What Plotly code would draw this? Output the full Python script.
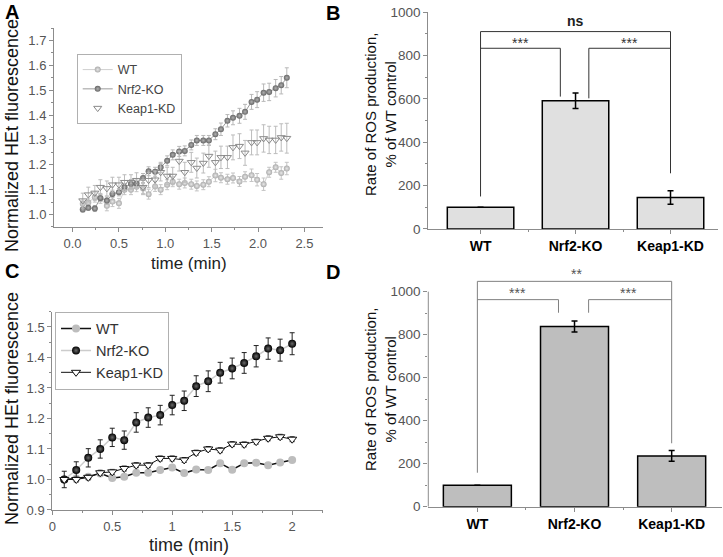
import plotly.graph_objects as go

# ---------------- Panel A data ----------------
time_a = [0.11, 0.17, 0.24, 0.30, 0.37, 0.43, 0.50, 0.56, 0.63, 0.69, 0.76, 0.82,
          0.89, 0.95, 1.02, 1.08, 1.15, 1.21, 1.28, 1.34, 1.41, 1.47, 1.54, 1.60,
          1.67, 1.73, 1.80, 1.86, 1.93, 1.99, 2.06, 2.12, 2.19, 2.25, 2.31]
wt_a = [1.043, 1.048, 1.07, 1.065, 1.035, 1.052, 1.045, 1.10, 1.10, 1.112, 1.105, 1.082,
        1.113, 1.10, 1.12, 1.132, 1.122, 1.127, 1.122, 1.115, 1.12, 1.132, 1.157, 1.148,
        1.142, 1.147, 1.133, 1.152, 1.158, 1.14, 1.122, 1.17, 1.19, 1.167, 1.185]
wt_a_err = [0.015, 0.015, 0.02, 0.02, 0.02, 0.02, 0.02, 0.02, 0.02, 0.02, 0.02, 0.02,
            0.02, 0.02, 0.02, 0.02, 0.02, 0.02, 0.02, 0.02, 0.02, 0.02, 0.025, 0.02,
            0.02, 0.02, 0.02, 0.02, 0.025, 0.025, 0.025, 0.02, 0.02, 0.025, 0.025]
nrf2_a = [1.02, 1.027, 1.024, 1.067, 1.056, 1.083, 1.09, 1.11, 1.123, 1.125, 1.147, 1.174,
          1.172, 1.19, 1.216, 1.24, 1.254, 1.256, 1.28, 1.298, 1.298, 1.298, 1.323, 1.343,
          1.377, 1.389, 1.397, 1.413, 1.453, 1.462, 1.49, 1.493, 1.508, 1.52, 1.55]
nrf2_a_err = [0.01, 0.01, 0.012, 0.015, 0.015, 0.015, 0.015, 0.015, 0.018, 0.018, 0.018, 0.018,
              0.018, 0.02, 0.02, 0.02, 0.02, 0.02, 0.02, 0.02, 0.02, 0.02, 0.022, 0.025,
              0.025, 0.028, 0.03, 0.03, 0.03, 0.032, 0.035, 0.035, 0.035, 0.035, 0.04]
keap1_a = [1.056, 1.08, 1.087, 1.11, 1.105, 1.12, 1.12, 1.13, 1.13, 1.138, 1.11, 1.138,
           1.14, 1.17, 1.155, 1.155, 1.215, 1.17, 1.21, 1.187, 1.207, 1.235, 1.21, 1.23,
           1.23, 1.27, 1.275, 1.248, 1.29, 1.29, 1.306, 1.30, 1.30, 1.31, 1.307]
keap1_a_err = [0.03, 0.03, 0.03, 0.03, 0.03, 0.03, 0.03, 0.03, 0.03, 0.03, 0.03, 0.03,
               0.035, 0.035, 0.035, 0.035, 0.04, 0.04, 0.04, 0.04, 0.04, 0.045, 0.045, 0.045,
               0.045, 0.05, 0.05, 0.05, 0.05, 0.05, 0.055, 0.055, 0.055, 0.055, 0.06]

# ---------------- Panel C data ----------------
time_c = [0.1, 0.2, 0.3, 0.4, 0.5, 0.6, 0.7, 0.8, 0.9, 1.0,
          1.1, 1.2, 1.3, 1.4, 1.5, 1.6, 1.7, 1.8, 1.9, 2.0]
wt_c = [1.0, 1.003, 1.009, 1.02, 1.005, 1.009, 1.022, 1.022, 1.031, 1.039,
        1.021, 1.033, 1.031, 1.053, 1.032, 1.053, 1.055, 1.047, 1.056, 1.064]
nrf2_c = [1.0, 1.031, 1.071, 1.10, 1.138, 1.129, 1.187, 1.203, 1.211, 1.244,
          1.258, 1.306, 1.322, 1.35, 1.364, 1.382, 1.404, 1.429, 1.424, 1.445]
nrf2_c_err = [0.027, 0.027, 0.03, 0.03, 0.03, 0.03, 0.032, 0.032, 0.032, 0.032,
              0.032, 0.034, 0.034, 0.034, 0.034, 0.034, 0.035, 0.035, 0.036, 0.036]
keap1_c = [1.0, 1.0, 1.007, 1.022, 1.025, 1.036, 1.047, 1.047, 1.069, 1.069,
           1.064, 1.088, 1.10, 1.096, 1.116, 1.115, 1.124, 1.135, 1.14, 1.132]
keap1_c_err = [0.008, 0.008, 0.008, 0.008, 0.008, 0.008, 0.008, 0.008, 0.008, 0.008,
               0.008, 0.008, 0.008, 0.008, 0.008, 0.008, 0.008, 0.008, 0.008, 0.008]

# ---------------- Bar panels ----------------
groups = ["WT", "Nrf2-KO", "Keap1-KD"]
rate_b = [100, 592, 145]
rate_b_err = [0, 36, 31]
rate_d = [100, 838, 236]
rate_d_err = [0, 26, 25]

AX = "#8c8c8c"
FONT = "Liberation Sans, Arial, sans-serif"
TICKF = dict(family=FONT, size=13, color="#555555")

fig = go.Figure()

# Panel A traces
fig.add_trace(go.Scatter(x=time_a, y=wt_a, name="WT", mode="lines+markers",
                         error_y=dict(type="data", array=wt_a_err, color="#c4c4c4", thickness=1, width=2),
                         line=dict(color="#cfcfcf", width=1),
                         marker=dict(symbol="circle", size=6, color="#ababab",
                                     gradient=dict(type="radial", color="#e8e8e8"),
                                     line=dict(width=0)),
                         xaxis="x", yaxis="y", legend="legend"))
fig.add_trace(go.Scatter(x=time_a, y=nrf2_a, name="Nrf2-KO", mode="lines+markers",
                         error_y=dict(type="data", array=nrf2_a_err, color="#b8b8b8", thickness=1, width=2),
                         line=dict(color="#9a9a9a", width=1),
                         marker=dict(symbol="circle", size=6, color="#666666",
                                     gradient=dict(type="radial", color="#b0b0b0"),
                                     line=dict(width=0)),
                         xaxis="x", yaxis="y", legend="legend"))
fig.add_trace(go.Scatter(x=time_a, y=keap1_a, name="Keap1-KD", mode="markers",
                         error_y=dict(type="data", array=keap1_a_err, color="#bcbcbc", thickness=1, width=2),
                         marker=dict(symbol="triangle-down-open", size=7, color="#8a8a8a",
                                     line=dict(width=1)),
                         xaxis="x", yaxis="y", legend="legend"))

# Panel C traces
fig.add_trace(go.Scatter(x=time_c, y=wt_c, name="WT", mode="lines+markers",
                         line=dict(color="#111111", width=1.5),
                         marker=dict(symbol="circle", size=8, color="#bdbdbd", line=dict(width=0)),
                         xaxis="x3", yaxis="y3", legend="legend2"))
fig.add_trace(go.Scatter(x=time_c, y=nrf2_c, name="Nrf2-KO", mode="lines+markers",
                         error_y=dict(type="data", array=nrf2_c_err, color="#222222", thickness=1, width=2.5),
                         line=dict(color="#cccccc", width=1.5),
                         marker=dict(symbol="circle", size=8, color="#000000",
                                     gradient=dict(type="radial", color="#6a6a6a"),
                                     line=dict(width=0)),
                         xaxis="x3", yaxis="y3", legend="legend2"))
fig.add_trace(go.Scatter(x=time_c, y=keap1_c, name="Keap1-KD", mode="lines+markers",
                         error_y=dict(type="data", array=keap1_c_err, color="#222222", thickness=1, width=2.5),
                         line=dict(color="#111111", width=1),
                         marker=dict(symbol="triangle-down", size=8, color="#ffffff",
                                     line=dict(width=1, color="#111111")),
                         xaxis="x3", yaxis="y3", legend="legend2"))

# Panel B bars
fig.add_trace(go.Bar(x=[0, 1, 2], y=rate_b, width=0.7, showlegend=False,
                     marker=dict(color="#e0e0e0", line=dict(color="#000000", width=1.5)),
                     error_y=dict(type="data", array=rate_b_err, color="#000000", thickness=1.5, width=3),
                     xaxis="x2", yaxis="y2"))
# Panel D bars
fig.add_trace(go.Bar(x=[0, 1, 2], y=rate_d, width=0.7, showlegend=False,
                     marker=dict(color="#bebebe", line=dict(color="#000000", width=1.5)),
                     error_y=dict(type="data", array=rate_d_err, color="#000000", thickness=1.5, width=3),
                     xaxis="x4", yaxis="y4"))


def lin_axis(domain, rng, dtick, minor_dtick, anchor, tickformat=None):
    d = dict(domain=domain, range=rng, anchor=anchor, showline=True, linecolor=AX, linewidth=1,
             ticks="outside", ticklen=4, tickcolor=AX, tickwidth=1, dtick=dtick, tick0=0,
             showgrid=False, zeroline=False, tickfont=TICKF, automargin=False,
             minor=dict(dtick=minor_dtick, ticks="outside", ticklen=2.5, tickcolor=AX, showgrid=False))
    if tickformat:
        d["tickformat"] = tickformat
    return d


cat_text = ["<b>WT</b>", "<b>Nrf2-KO</b>", "<b>Keap1-KD</b>"]

layout = dict(
    template="none",
    width=723, height=557, margin=dict(l=0, r=0, t=0, b=0, pad=0, autoexpand=False),
    paper_bgcolor="white", plot_bgcolor="white",
    font=dict(family=FONT, color="#000000"),
    barmode="overlay",
    xaxis=lin_axis([0.0747, 0.4467], [-0.2, 2.7], 0.5, 0.25, "y", ".1f"),
    yaxis=lin_axis([0.5925, 0.9497], [0.95, 1.75], 0.1, 0.05, "x", ".1f"),
    xaxis3=lin_axis([0.0723, 0.4472], [0, 2.26], 0.5, 0.25, "y3"),
    yaxis3=lin_axis([0.0844, 0.4404], [0.9, 1.55], 0.1, 0.05, "x3", ".1f"),
    xaxis2=dict(domain=[0.5924, 0.9931], range=[-0.55, 2.5], anchor="y2", showline=True,
                linecolor=AX, ticks="outside", ticklen=4, tickcolor=AX, tickvals=[0, 1, 2],
                ticktext=cat_text, automargin=False,
                tickfont=dict(family=FONT, size=14, color="#000000"), showgrid=False, zeroline=False,
                minor=dict(tickvals=[0.5, 1.5], ticks="outside", ticklen=2.5, tickcolor=AX)),
    yaxis2=dict(domain=[0.5889, 0.9779], range=[0, 1000], anchor="x2", showline=True, linecolor=AX,
                ticks="outside", ticklen=4, tickcolor=AX, dtick=200, showgrid=False, zeroline=False,
                tickfont=dict(family=FONT, size=13.5, color="#555555"), automargin=False,
                minor=dict(dtick=100, ticks="outside", ticklen=2.5, tickcolor=AX)),
    xaxis4=dict(domain=[0.5924, 0.9982], range=[-0.505, 2.515], anchor="y4", showline=True,
                linecolor=AX, ticks="outside", ticklen=4, tickcolor=AX, tickvals=[0, 1, 2],
                ticktext=cat_text, automargin=False,
                tickfont=dict(family=FONT, size=14, color="#000000"), showgrid=False, zeroline=False,
                minor=dict(tickvals=[0.5, 1.5], ticks="outside", ticklen=2.5, tickcolor=AX)),
    yaxis4=dict(domain=[0.0903, 0.5188], range=[0, 1110], anchor="x4", showline=False,
                ticks="outside", ticklen=4, tickcolor=AX, tickvals=[0, 200, 400, 600, 800, 1000],
                showgrid=False, zeroline=False, automargin=False,
                tickfont=dict(family=FONT, size=13.5, color="#555555"),
                minor=dict(tickvals=[100, 300, 500, 700, 900], ticks="outside", ticklen=2.5, tickcolor=AX)),
    legend=dict(x=0.1061, y=0.9031, xanchor="left", yanchor="top", bordercolor="#b0b0b0", borderwidth=1,
                bgcolor="rgba(255,255,255,0)", font=dict(family=FONT, size=12.5, color="#444444"),
                itemwidth=30, tracegroupgap=0),
    legend2=dict(x=0.0761, y=0.4404, xanchor="left", yanchor="top", bordercolor="#b0b0b0", borderwidth=1,
                 bgcolor="rgba(255,255,255,0)", font=dict(family=FONT, size=14.5, color="#333333"),
                 itemwidth=30, tracegroupgap=0),
)
fig.update_layout(**layout)

shapes = []
# D y-axis line (stops at 1000)
shapes.append(dict(type="line", xref="x4 domain", yref="y4", x0=0, x1=0, y0=0, y1=1000,
                   line=dict(color=AX, width=1)))
# B brackets
bk = "#333333"
shapes += [
    dict(type="path", xref="x2", yref="y2", path="M 0,150 L 0,911 L 2,911 L 2,257", line=dict(color=bk, width=1)),
    dict(type="path", xref="x2", yref="y2", path="M 0,834 L 0.84,834 L 0.84,611", line=dict(color=bk, width=1)),
    dict(type="path", xref="x2", yref="y2", path="M 1.14,603 L 1.14,834 L 2,834", line=dict(color=bk, width=1)),
]
# D brackets
dk = "#808080"
shapes += [
    dict(type="path", xref="x4", yref="y4", path="M 0,158 L 0,1048 L 2,1048 L 2,295", line=dict(color=dk, width=1)),
    dict(type="path", xref="x4", yref="y4", path="M 0,963 L 0.835,963 L 0.835,902", line=dict(color=dk, width=1)),
    dict(type="path", xref="x4", yref="y4", path="M 1.145,902 L 1.145,963 L 2,963", line=dict(color=dk, width=1)),
]
fig.update_layout(shapes=shapes)

ann = []
def txt(text, x, y, size, xref="paper", yref="paper", angle=0, color="#000000", bold=False):
    ann.append(dict(text=f"<b>{text}</b>" if bold else text, x=x, y=y, xref=xref, yref=yref,
                    showarrow=False, textangle=angle, xanchor="center", yanchor="middle",
                    font=dict(family=FONT, size=size, color=color)))

# panel letters
txt("A", 12 / 723, 1 - 12 / 557, 20, bold=True)
txt("B", 333 / 723, 1 - 13 / 557, 20, bold=True)
txt("C", 12 / 723, 1 - 271 / 557, 20, bold=True)
txt("D", 333 / 723, 1 - 272 / 557, 20, bold=True)
# axis titles
txt("Normalized HEt fluorescence", 12 / 723, 1 - 136 / 557, 18, angle=-90, color="#111111")
txt("Normalized HEt fluorescence", 12 / 723, 1 - 409 / 557, 18, angle=-90, color="#111111")
txt("time (min)", 189 / 723, 1 - 263 / 557, 17, color="#222222")
txt("time (min)", 189 / 723, 1 - 545 / 557, 18, color="#222222")
txt("Rate of ROS production,<br>% of WT control", 380 / 723, 1 - 115 / 557, 15, angle=-90, color="#111111")
txt("Rate of ROS production,<br>% of WT control", 380 / 723, 1 - 390 / 557, 15, angle=-90, color="#111111")
# significance labels
txt("ns", 1, 960, 14, xref="x2", yref="y2", bold=True, color="#222222")
txt("***", 0.42, 857, 14, xref="x2", yref="y2", color="#333333")
txt("***", 1.57, 857, 14, xref="x2", yref="y2", color="#333333")
txt("**", 1.02, 1084, 14, xref="x4", yref="y4", color="#555555")
txt("***", 0.41, 994, 14, xref="x4", yref="y4", color="#555555")
txt("***", 1.56, 994, 14, xref="x4", yref="y4", color="#555555")
fig.update_layout(annotations=ann)

fig.write_html("out.html", config={"displayModeBar": False},
               post_script="document.body.style.margin='0';document.body.style.padding='0';")
